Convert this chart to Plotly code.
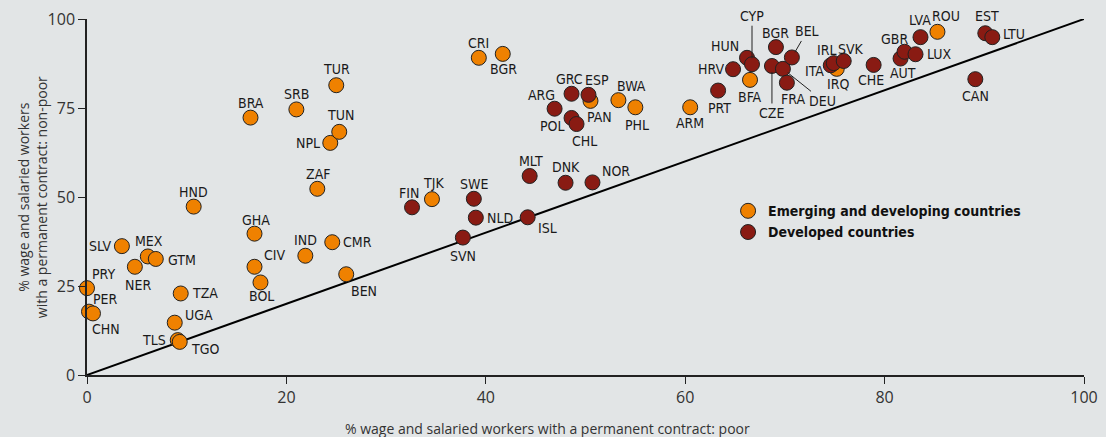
import plotly.graph_objects as go

# ---- data ----
emerging_codes = ["PRY", "PER", "CHN", "SLV", "NER", "MEX", "GTM", "TZA", "UGA", "TLS", "TGO",
                  "HND", "BRA", "GHA", "CIV", "BOL", "SRB", "IND", "ZAF", "NPL", "TUR", "TUN",
                  "CMR", "BEN", "TJK", "CRI", "BGR", "PAN", "BWA", "PHL", "ARM", "BFA", "IRQ", "ROU"]
emerging_poor = [0.0, 0.2, 0.6, 3.5, 4.8, 6.1, 6.9, 9.4, 8.8, 9.1, 9.3,
                 10.7, 16.4, 16.8, 16.8, 17.4, 21.0, 21.9, 23.1, 24.4, 25.0, 25.3,
                 24.6, 26.0, 34.6, 39.3, 41.7, 50.5, 53.3, 55.0, 60.5, 66.5, 75.2, 85.3]
emerging_nonpoor = [24.4, 17.8, 17.3, 36.2, 30.4, 33.3, 32.6, 22.9, 14.7, 9.8, 9.3,
                    47.3, 72.3, 39.7, 30.4, 26.0, 74.6, 33.5, 52.3, 65.2, 81.4, 68.3,
                    37.3, 28.3, 49.4, 89.1, 90.2, 77.0, 77.2, 75.2, 75.2, 82.9, 86.0, 96.4]

developed_codes = ["FIN", "SVN", "SWE", "NLD", "ISL", "MLT", "DNK", "NOR", "ARG", "GRC", "POL",
                   "CHL", "ESP", "PRT", "HRV", "HUN", "CYP", "CZE", "BGR", "DEU", "FRA", "BEL",
                   "ITA", "IRL", "SVK", "CHE", "AUT", "GBR", "LUX", "LVA", "CAN", "EST", "LTU"]
developed_poor = [32.6, 37.7, 38.8, 39.0, 44.2, 44.4, 48.0, 50.7, 46.9, 48.6, 48.6,
                  49.1, 50.3, 63.3, 64.8, 66.2, 66.7, 68.7, 69.1, 69.8, 70.2, 70.7,
                  74.6, 74.9, 75.9, 78.9, 81.6, 82.0, 83.1, 83.6, 89.1, 90.1, 90.8]
developed_nonpoor = [47.1, 38.6, 49.5, 44.2, 44.3, 55.9, 54.0, 54.1, 74.8, 79.0, 72.2,
                     70.5, 78.7, 79.9, 85.9, 89.1, 87.3, 86.8, 92.1, 86.0, 82.1, 89.2,
                     87.0, 87.6, 88.2, 87.1, 88.9, 90.8, 90.1, 94.9, 83.1, 96.0, 94.9]

x_ticks = [0, 20, 40, 60, 80, 100]
y_ticks = [0, 25, 50, 75, 100]

# ---- style ----
BG = "#E2E5E6"
ORANGE = "#EF8100"
DARKRED = "#891B13"
NARROW = "DejaVu Sans Condensed, Liberation Sans Narrow, Roboto, sans-serif"
LABEL_FONT = dict(family=NARROW, size=14, color="#1a1a1a")
TICK_FONT = dict(family="Open Sans, sans-serif", size=16, color="#333333")

# label placement: (dx, dy, xanchor) in px; dy positive = down
label_pos = {
    "TUR": (0, -16, "center"), "SRB": (0, -15, "center"), "BRA": (0, -15, "center"),
    "TUN": (1, -17, "center"), "NPL": (-8, 0, "right"), "ZAF": (1, -15, "center"),
    "HND": (0, -15, "center"), "GHA": (1, -14, "center"), "CIV": (7, -12, "left"),
    "BOL": (1, 14, "center"), "IND": (0, -16, "center"), "CMR": (9, 0, "left"),
    "BEN": (3, 17, "left"), "SLV": (-9, 0, "right"), "MEX": (1, -15, "center"),
    "GTM": (10, 1, "left"), "NER": (3, 18, "center"), "PRY": (3, -14, "left"),
    "PER": (2, -13, "left"), "CHN": (-3, 16, "left"), "TZA": (9, 0, "left"),
    "UGA": (8, -8, "left"), "TLS": (-10, 0, "right"), "TGO": (9, 7, "left"),
    "CRI": (0, -15, "center"), "BGR_e": (1, 15, "center"), "PAN": (9, 16, "center"),
    "BWA": (13, -14, "center"), "PHL": (2, 18, "center"), "ARM": (0, 16, "center"),
    "TJK": (2, -16, "center"), "BFA": (0, 17, "center"), "IRQ": (1, 15, "center"),
    "ROU": (9, -16, "center"),
    "FIN": (-3, -14, "center"), "SVN": (0, 18, "center"), "SWE": (0, -15, "center"),
    "NLD": (9, 0, "left"), "ISL": (8, 11, "left"), "MLT": (1, -15, "center"),
    "DNK": (0, -16, "center"), "NOR": (8, -11, "left"), "ARG": (2, -14, "right"),
    "GRC": (-2, -15, "center"), "POL": (-5, 8, "right"), "CHL": (8, 17, "center"),
    "ESP": (9, -15, "center"), "PRT": (1, 17, "center"), "HRV": (-7, 0, "right"),
    "HUN": (-6, -12, "right"), "BGR_d": (0, -14, "center"), "FRA": (6, 16, "center"),
    "ITA": (-5, 6, "right"), "IRL": (-7, -13, "center"), "SVK": (7, -12, "center"),
    "CHE": (-3, 15, "center"), "AUT": (2, 14, "center"), "GBR": (-10, -13, "center"),
    "LUX": (9, 0, "left"), "LVA": (0, -17, "center"), "CAN": (0, 17, "center"),
    "EST": (2, -17, "center"), "LTU": (9, -3, "left"),
}
# labels with leader lines: (ax, ay)
leader_pos = {"CYP": (0, -48), "CZE": (0, 47), "BEL": (15, -26), "DEU": (40, 32)}

fig = go.Figure()

# diagonal reference line
fig.add_trace(go.Scatter(x=[x_ticks[0], x_ticks[-1]], y=[y_ticks[0], y_ticks[-1]], mode="lines",
                         line=dict(color="black", width=2), showlegend=False, hoverinfo="skip"))

fig.add_trace(go.Scatter(x=emerging_poor, y=emerging_nonpoor, mode="markers",
                         name="Emerging and developing countries", text=emerging_codes,
                         marker=dict(size=15, color=ORANGE, line=dict(color="#222", width=1)),
                         cliponaxis=False))
fig.add_trace(go.Scatter(x=developed_poor, y=developed_nonpoor, mode="markers",
                         name="Developed countries", text=developed_codes,
                         marker=dict(size=15, color=DARKRED, line=dict(color="#222", width=1)),
                         cliponaxis=False))

annotations = []
def add_labels(codes, xs, ys, suffix):
    for c, xv, yv in zip(codes, xs, ys):
        key = c if c in label_pos or c in leader_pos else c + suffix
        if key in leader_pos:
            ax, ay = leader_pos[key]
            annotations.append(dict(x=xv, y=yv, xref="x", yref="y", text=c, showarrow=True,
                                    arrowhead=0, arrowwidth=1, arrowcolor="#222", ax=ax, ay=ay,
                                    standoff=6, font=LABEL_FONT))
        else:
            dx, dy, anc = label_pos[key]
            annotations.append(dict(x=xv, y=yv, xref="x", yref="y", text=c, showarrow=False,
                                    xanchor=anc, yanchor="middle", xshift=dx, yshift=-dy,
                                    font=LABEL_FONT))

add_labels(emerging_codes, emerging_poor, emerging_nonpoor, "_e")
add_labels(developed_codes, developed_poor, developed_nonpoor, "_d")

# axis titles
annotations.append(dict(x=0.462, y=-0.149, xref="paper", yref="paper", showarrow=False,
                        text="% wage and salaried workers with a permanent contract: poor",
                        xanchor="center", yanchor="middle",
                        font=dict(family="Open Sans, sans-serif", size=14, color="#333")))
annotations.append(dict(x=-0.055, y=0.5, xref="paper", yref="paper", showarrow=False,
                        text="% wage and salaried workers<br>with a permanent contract: non-poor",
                        textangle=-90, xanchor="center", yanchor="middle",
                        font=dict(family="Open Sans, sans-serif", size=14, color="#333")))

fig.update_layout(
    width=1106, height=437,
    margin=dict(l=87, r=22, t=19, b=62, autoexpand=False),
    paper_bgcolor=BG, plot_bgcolor=BG,
    annotations=annotations,
    showlegend=True,
    legend=dict(x=0.643, y=0.505, xanchor="left", yanchor="top", bgcolor="rgba(0,0,0,0)",
                font=dict(family=NARROW, size=14, color="#111", weight="bold"),
                itemwidth=30, tracegroupgap=0),
    xaxis=dict(range=[0, 100], tickvals=x_ticks, showgrid=False, zeroline=False,
               showline=True, linecolor="#222", linewidth=1.5, ticks="outside", ticklen=7,
               tickcolor="#222", tickwidth=1, tickfont=TICK_FONT, automargin=False),
    yaxis=dict(range=[0, 100], tickvals=y_ticks, showgrid=False, zeroline=False,
               showline=True, linecolor="#222", linewidth=1.5, ticks="outside", ticklen=7,
               tickcolor="#222", tickwidth=1, tickfont=TICK_FONT, automargin=False),
)

fig.write_html(
    "out.html",
    config={"displayModeBar": False},
    post_script="document.body.style.margin='0px';document.body.style.background='" + BG + "';",
)
